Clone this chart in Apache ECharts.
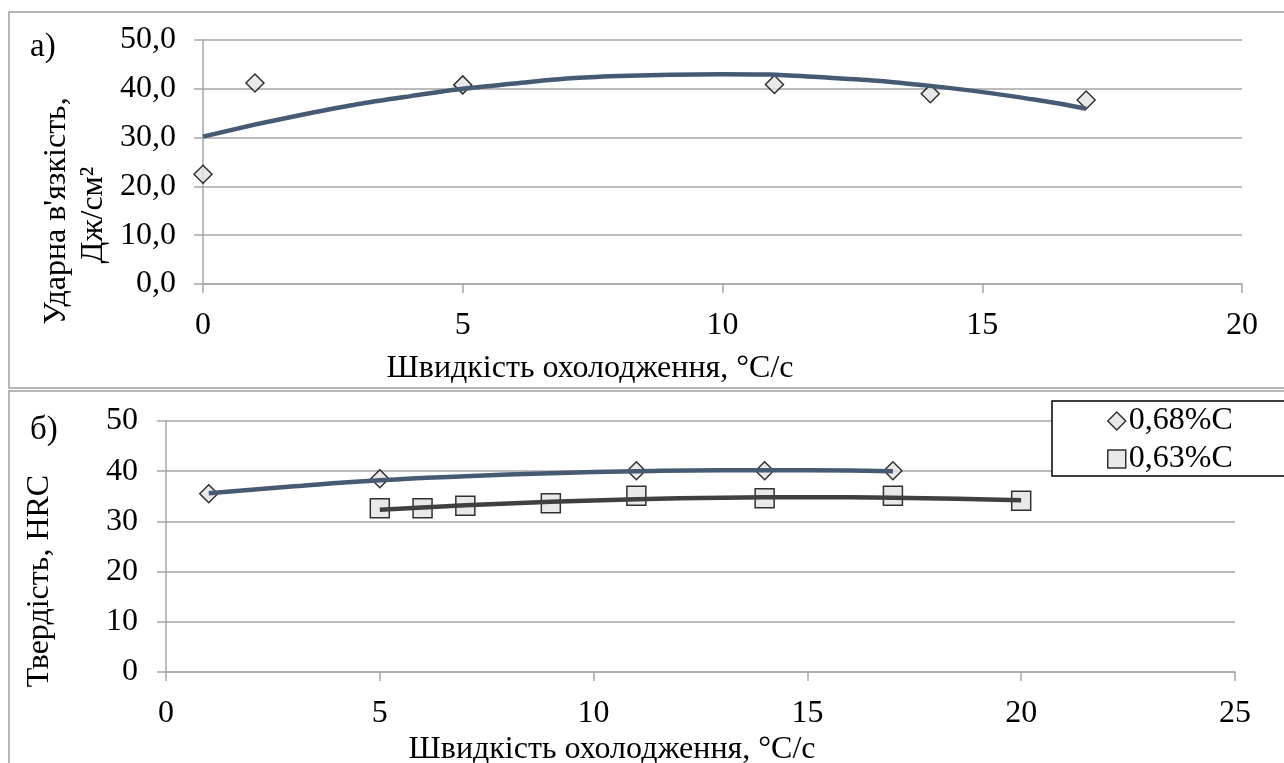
<!DOCTYPE html>
<html lang="uk">

<head>
    <meta charset="UTF-8">
    <title>Ударна в'язкість і твердість</title>
    <script type="text/javascript" src="https://cdn.jsdelivr.net/npm/echarts@6/dist/echarts.min.js"></script>
    <style>
        body {
            margin: 0;
            background: #fff;
        }

        .box {
            width: 1284px;
            height: 763px;
        }
    </style>
</head>

<body>
    <div class="box"></div>
</body>
<script>
    // а) ударна в'язкість
    let xImpact = [0, 1, 5, 11, 14, 17]
    let yImpact = [22.5, 41.2, 40.8, 40.9, 39.0, 37.7]
    // лінія тренду
    let xImpactTrend = [0, 2, 4, 6, 8, 10, 12, 14, 16, 17]
    let yImpactTrend = [30.2, 34.9, 38.5, 41.1, 42.6, 43.0, 42.3, 40.6, 37.8, 35.9]

    // б) твердість
    let x068 = [1, 5, 11, 14, 17]
    let y068 = [35.5, 38.5, 40.1, 40.1, 40.1]
    let x068Trend = [1, 3, 5, 7, 9, 11, 13, 15, 17]
    let y068Trend = [35.6, 37.0, 38.2, 39.0, 39.6, 40.0, 40.2, 40.2, 40.0]

    let x063 = [5, 6, 7, 9, 11, 14, 17, 20]
    let y063 = [32.6, 32.6, 33.1, 33.6, 35.1, 34.6, 35.1, 34.1]
    let x063Trend = [5, 7, 9, 11, 13, 15, 17, 20]
    let y063Trend = [32.3, 33.2, 33.9, 34.4, 34.7, 34.8, 34.7, 34.2]

    let seriesNames = ['0,68%C', '0,63%C']
    let xTitle = 'Швидкість охолодження, °C/с'

    const pairs = (xs, ys) => xs.map((x, i) => [x, ys[i]])

    let font = 'Liberation Serif, Times New Roman, serif'
    let gridColor = '#a6a6a6'
    let markerStyle = { color: '#e4e4e4', borderColor: '#000', borderWidth: 1.5 }

    let axisCommon = {
        axisLine: { show: true, lineStyle: { color: gridColor, width: 1.5 } },
        axisTick: { show: true, inside: false, length: 9, lineStyle: { color: gridColor, width: 1.5 } },
        splitLine: { lineStyle: { color: gridColor, width: 1.5 } },
        axisLabel: { color: '#000', fontFamily: font, fontSize: 32 }
    }

    let mCharts = echarts.init(document.querySelector('.box'))
    let option = {
        animation: false,
        grid: [
            { left: 203, right: 42, top: 40, bottom: 479 },
            { left: 166, right: 49, top: 421, bottom: 91 }
        ],
        xAxis: [{
            type: 'value', gridIndex: 0, min: 0, max: 20, interval: 5,
            axisLine: axisCommon.axisLine, axisTick: axisCommon.axisTick,
            splitLine: { show: false },
            axisLabel: Object.assign({}, axisCommon.axisLabel, { margin: 26 })
        }, {
            type: 'value', gridIndex: 1, min: 0, max: 25, interval: 5,
            axisLine: axisCommon.axisLine, axisTick: axisCommon.axisTick,
            splitLine: { show: false },
            axisLabel: Object.assign({}, axisCommon.axisLabel, { margin: 26 })
        }],
        yAxis: [{
            type: 'value', gridIndex: 0, min: 0, max: 50, interval: 10,
            axisLine: axisCommon.axisLine, axisTick: axisCommon.axisTick,
            splitLine: axisCommon.splitLine,
            axisLabel: Object.assign({}, axisCommon.axisLabel, {
                margin: 27,
                formatter: v => v.toFixed(1).replace('.', ',')
            })
        }, {
            type: 'value', gridIndex: 1, min: 0, max: 50, interval: 10,
            axisLine: axisCommon.axisLine, axisTick: axisCommon.axisTick,
            splitLine: axisCommon.splitLine,
            axisLabel: Object.assign({}, axisCommon.axisLabel, { margin: 28 })
        }],
        legend: {
            data: seriesNames,
            orient: 'vertical',
            left: 1052,
            top: 401,
            padding: [4, 40, 2, 55],
            itemGap: 6,
            itemWidth: 18,
            itemHeight: 18,
            itemStyle: { borderWidth: 1.5 },
            borderWidth: 0,
            textStyle: { color: '#000', fontFamily: font, fontSize: 32, lineHeight: 30, padding: [0, 0, 0, -2] }
        },
        graphic: [
            // рамки двох діаграм
            { type: 'rect', shape: { x: 9, y: 12, width: 1300, height: 376 }, style: { fill: 'none', stroke: '#a0a0a0', lineWidth: 1.5 }, silent: true },
            { type: 'rect', shape: { x: 9, y: 391, width: 1300, height: 400 }, style: { fill: 'none', stroke: '#a0a0a0', lineWidth: 1.5 }, silent: true },
            // рамка легенди виходить за правий край
            { type: 'rect', z: 2, shape: { x: 1052, y: 401, width: 300, height: 75 }, style: { fill: '#fff', stroke: '#000', lineWidth: 1.5 }, silent: true },
            { type: 'text', x: 30, y: 47, style: { text: 'а)', font: '33px ' + font, fill: '#000', textVerticalAlign: 'middle' } },
            { type: 'text', x: 30, y: 430, style: { text: 'б)', font: '33px ' + font, fill: '#000', textVerticalAlign: 'middle' } },
            { type: 'text', x: 57, y: 211, rotation: Math.PI / 2, style: { text: "Ударна в'язкість,", font: '32px ' + font, fill: '#000', textAlign: 'center', textVerticalAlign: 'middle' } },
            { type: 'text', x: 94, y: 215, rotation: Math.PI / 2, style: { text: 'Дж/см²', font: '32px ' + font, fill: '#000', textAlign: 'center', textVerticalAlign: 'middle' } },
            { type: 'text', x: 40, y: 581, rotation: Math.PI / 2, style: { text: 'Твердість, HRC', font: '32px ' + font, fill: '#000', textAlign: 'center', textVerticalAlign: 'middle' } },
            { type: 'text', x: 590, y: 369, style: { text: xTitle, font: '32px ' + font, fill: '#000', textAlign: 'center', textVerticalAlign: 'middle' } },
            { type: 'text', x: 612, y: 750, style: { text: xTitle, font: '32px ' + font, fill: '#000', textAlign: 'center', textVerticalAlign: 'middle' } }
        ],
        series: [{
            name: 'impact',
            type: 'scatter',
            xAxisIndex: 0, yAxisIndex: 0,
            symbol: 'diamond', symbolSize: 18,
            itemStyle: markerStyle,
            data: pairs(xImpact, yImpact),
            z: 3
        }, {
            name: 'impactTrend',
            type: 'line',
            xAxisIndex: 0, yAxisIndex: 0,
            smooth: true, showSymbol: false,
            lineStyle: { color: '#475a74', width: 4.5 },
            data: pairs(xImpactTrend, yImpactTrend),
            z: 4
        }, {
            name: seriesNames[0],
            type: 'scatter',
            xAxisIndex: 1, yAxisIndex: 1,
            symbol: 'diamond', symbolSize: 18,
            itemStyle: markerStyle,
            data: pairs(x068, y068),
            z: 3
        }, {
            name: seriesNames[1],
            type: 'scatter',
            xAxisIndex: 1, yAxisIndex: 1,
            symbol: 'rect', symbolSize: 19,
            itemStyle: markerStyle,
            data: pairs(x063, y063),
            z: 3
        }, {
            name: 'trend068',
            type: 'line',
            xAxisIndex: 1, yAxisIndex: 1,
            smooth: true, showSymbol: false,
            lineStyle: { color: '#475a74', width: 4.5 },
            data: pairs(x068Trend, y068Trend),
            z: 4
        }, {
            name: 'trend063',
            type: 'line',
            xAxisIndex: 1, yAxisIndex: 1,
            smooth: true, showSymbol: false,
            lineStyle: { color: '#404040', width: 4.5 },
            data: pairs(x063Trend, y063Trend),
            z: 4
        }]
    };
    mCharts.setOption(option)
</script>

</html>
